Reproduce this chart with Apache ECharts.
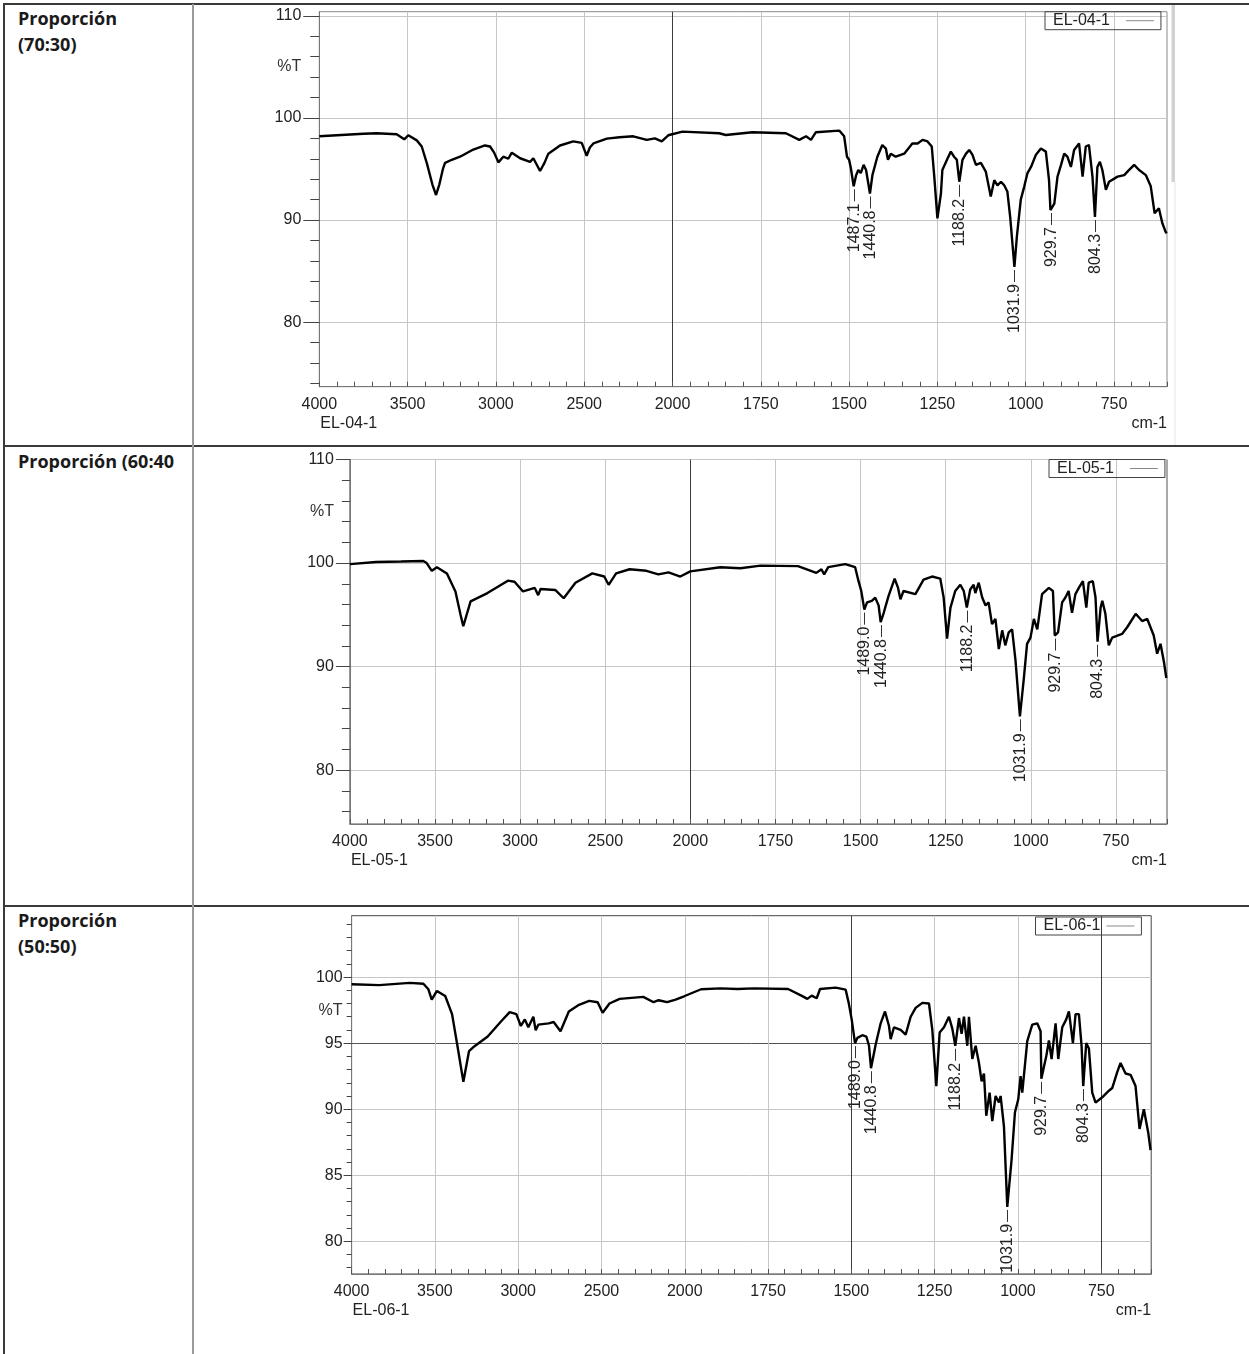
<!DOCTYPE html>
<html>
<head>
<meta charset="utf-8">
<script src="https://cdn.jsdelivr.net/npm/echarts@6/dist/echarts.min.js"></script>
<style>
  body { margin: 0; background: #fff; }
  #page { position: relative; width: 1249px; height: 1354px; overflow: hidden; }
  .rule { position: absolute; background: #3a3a3a; }
  .rule.light { background: #9a9a9a; }
  .label {
    position: absolute; left: 18px;
    font: bold 18px "Open Sans", sans-serif; line-height: 25.5px; color: #1a1a1a;
  }
  #chart { position: absolute; left: 0; top: 0; width: 1249px; height: 1354px; }
</style>
</head>
<body>
<div id="page">
  <div class="rule" style="left:3px;top:3px;width:1246px;height:2px"></div>
  <div class="rule" style="left:3px;top:3px;width:2px;height:1351px"></div>
  <div class="rule" style="left:3px;top:445px;width:1246px;height:2px"></div>
  <div class="rule" style="left:3px;top:905px;width:1246px;height:2px"></div>
  <div class="rule light" style="left:192px;top:4px;width:2px;height:1350px"></div>
  <div class="label" style="top:6px">Proporción<br>(70:30)</div>
  <div class="label" style="top:449px">Proporción (60:40</div>
  <div class="label" style="top:908px">Proporción<br>(50:50)</div>
  <div id="chart"></div>
</div>
<script>
// tick labels
var xLabelWaves = [4000, 3500, 3000, 2500, 2000, 1750, 1500, 1250, 1000, 750];
var c1YTicks = [80, 90, 100, 110];
var c2YTicks = [80, 90, 100, 110];
var c3YTicks = [80, 85, 90, 95, 100];

// EL-04-1
var c1Wave = [4000, 3850, 3750, 3675, 3562, 3519, 3496, 3448, 3420, 3390, 3360, 3339, 3320, 3300, 3288, 3250, 3203, 3128, 3062, 3033, 3010, 2986, 2958, 2930, 2910, 2863, 2807, 2788, 2750, 2725, 2703, 2637, 2562, 2514, 2486, 2468, 2448, 2372, 2300, 2222, 2146, 2100, 2061, 2024, 1972, 1868, 1849, 1774, 1679, 1641, 1622, 1608, 1594, 1528, 1514, 1506, 1500, 1495, 1487, 1480, 1474, 1467, 1459, 1452, 1441, 1434, 1420, 1406, 1396, 1390, 1382, 1368, 1344, 1321, 1306, 1292, 1278, 1266, 1259, 1250, 1240, 1236, 1221, 1212, 1203, 1195, 1188, 1179, 1169, 1160, 1151, 1141, 1127, 1113, 1099, 1089, 1080, 1070, 1061, 1052, 1044, 1032, 1025, 1014, 1004, 995, 985, 971, 957, 943, 934, 930, 919, 910, 900, 891, 882, 872, 863, 849, 839, 830, 821, 811, 804, 797, 790, 783, 773, 764, 740, 721, 712, 693, 679, 660, 646, 635, 623, 613, 604, 601];
var c1Trans = [98.2, 98.35, 98.45, 98.5, 98.4, 97.9, 98.3, 97.8, 97.2, 95.5, 93.5, 92.45, 93.5, 95.0, 95.6, 95.9, 96.2, 96.9, 97.3, 97.2, 96.6, 95.65, 96.2, 96.0, 96.6, 96.05, 95.7, 96.05, 94.8, 95.6, 96.5, 97.3, 97.7, 97.55, 96.3, 97.1, 97.5, 97.97, 98.1, 98.2, 97.85, 98.0, 97.7, 98.3, 98.66, 98.5, 98.33, 98.6, 98.5, 97.85, 98.2, 97.85, 98.6, 98.76, 98.2, 96.2, 95.9, 95.07, 93.3, 94.4, 94.9, 94.6, 95.4, 94.9, 92.6, 94.4, 96.2, 97.35, 97.0, 95.9, 96.5, 96.2, 96.5, 97.5, 97.5, 97.85, 97.7, 97.2, 94.3, 90.17, 92.6, 94.9, 96.05, 96.7, 96.2, 95.9, 93.75, 95.9, 96.5, 96.86, 96.4, 95.4, 95.6, 94.74, 92.3, 93.9, 93.4, 93.75, 93.4, 92.8, 90.3, 85.4, 88.4, 92.0, 93.3, 94.6, 95.2, 96.4, 97.0, 96.7, 93.9, 90.98, 91.6, 94.25, 95.4, 96.5, 96.2, 95.2, 96.86, 97.5, 94.25, 97.2, 97.35, 94.25, 90.3, 95.2, 95.7, 94.9, 92.95, 93.75, 94.25, 94.4, 94.74, 95.4, 94.9, 94.4, 93.3, 90.66, 91.15, 89.67, 88.85, 88.7];
var c1PeakWave = [1487.1, 1440.8, 1188.2, 1031.9, 929.7, 804.3];
var c1PeakTrans = [93.3, 92.6, 93.75, 85.4, 90.98, 90.3];

// EL-05-1
var c2Wave = [4000, 3847, 3700, 3569, 3549, 3519, 3489, 3430, 3380, 3350, 3334, 3291, 3192, 3072, 3033, 2983, 2914, 2894, 2880, 2794, 2744, 2675, 2576, 2506, 2480, 2436, 2357, 2258, 2188, 2128, 2059, 2000, 1912, 1853, 1794, 1684, 1630, 1615, 1607, 1595, 1545, 1516, 1506, 1498, 1489, 1481, 1467, 1457, 1447, 1441, 1432, 1418, 1400, 1390, 1383, 1374, 1339, 1315, 1290, 1266, 1256, 1246, 1236, 1222, 1207, 1197, 1188, 1178, 1168, 1163, 1153, 1143, 1133, 1124, 1114, 1104, 1094, 1084, 1075, 1065, 1055, 1045, 1032, 1021, 1011, 1001, 991, 981, 967, 947, 935, 929.7, 920, 908, 898, 889, 879, 869, 859, 847, 837, 830, 818, 810, 804, 795, 790, 781, 771, 761, 732, 717, 692, 673, 658, 639, 629, 619, 609, 602];
var c2Trans = [99.9, 100.1, 100.15, 100.2, 100.0, 99.25, 99.6, 99.0, 97.26, 95.0, 93.9, 96.3, 97.1, 98.3, 98.2, 97.26, 97.6, 96.9, 97.5, 97.4, 96.6, 98.1, 99.0, 98.7, 97.9, 99.0, 99.4, 99.25, 98.9, 99.1, 98.7, 99.2, 99.6, 99.5, 99.75, 99.7, 99.05, 99.4, 98.9, 99.6, 99.9, 99.6, 98.25, 97.3, 95.5, 96.2, 96.35, 96.66, 95.9, 94.3, 95.2, 96.8, 98.5, 97.6, 96.5, 97.3, 97.0, 98.4, 98.7, 98.5, 96.66, 92.7, 95.7, 97.3, 97.9, 97.3, 95.7, 97.45, 97.9, 97.1, 98.1, 96.7, 95.9, 96.2, 94.1, 94.6, 91.7, 93.5, 92.05, 93.3, 93.6, 90.6, 85.2, 88.7, 92.2, 92.8, 94.6, 93.6, 97.0, 97.6, 97.3, 93.0, 93.3, 96.2, 96.7, 97.3, 95.2, 97.0, 97.6, 98.25, 95.7, 98.1, 98.25, 96.7, 92.4, 95.7, 96.35, 95.1, 92.05, 92.8, 93.15, 93.8, 95.1, 94.4, 94.6, 93.0, 91.25, 92.2, 90.45, 88.9];
var c2PeakWave = [1489.0, 1440.8, 1188.2, 1031.9, 929.7, 804.3];
var c2PeakTrans = [95.5, 94.3, 95.7, 85.2, 93.0, 92.4];

// EL-06-1
var c3Wave = [4000, 3834, 3651, 3569, 3539, 3519, 3488, 3438, 3397, 3366, 3329, 3295, 3264, 3183, 3102, 3051, 3011, 2984, 2960, 2939, 2909, 2895, 2879, 2817, 2787, 2746, 2696, 2635, 2574, 2523, 2493, 2452, 2391, 2249, 2187, 2157, 2106, 2055, 2004, 1951, 1893, 1842, 1792, 1690, 1650, 1632, 1619, 1604, 1594, 1547, 1517, 1508, 1499, 1489, 1482, 1467, 1455, 1447, 1441, 1427, 1412, 1399, 1387, 1382, 1372, 1352, 1337, 1322, 1307, 1287, 1267, 1257, 1245, 1235, 1222, 1207, 1197, 1188, 1177, 1169, 1162, 1152, 1147, 1137, 1127, 1117, 1109, 1102, 1095, 1085, 1077, 1067, 1057, 1052, 1042, 1032, 1019, 1009, 999, 992, 987, 972, 957, 942, 932, 929.7, 915, 907, 899, 887, 879, 867, 855, 847, 835, 827, 817, 809, 804, 795, 787, 777, 767, 747, 727, 717, 702, 692, 677, 662, 647, 635, 622, 609, 602];
var c3Trans = [99.46, 99.39, 99.56, 99.5, 99.08, 98.3, 98.95, 98.57, 97.2, 94.9, 92.07, 94.4, 94.75, 95.5, 96.66, 97.35, 97.2, 96.3, 96.8, 96.2, 97.0, 95.97, 96.4, 96.5, 96.6, 95.9, 97.4, 97.9, 98.2, 98.1, 97.3, 98.0, 98.35, 98.5, 98.1, 98.25, 98.1, 98.3, 98.55, 99.08, 99.15, 99.1, 99.15, 99.1, 98.6, 98.35, 98.6, 98.4, 99.1, 99.2, 99.05, 98.05, 96.8, 95.0, 95.4, 95.6, 95.5, 94.8, 93.1, 94.9, 96.5, 97.4, 96.3, 95.3, 96.2, 96.0, 95.65, 97.0, 97.67, 98.05, 98.0, 96.0, 91.75, 95.8, 96.2, 97.0, 96.1, 94.8, 96.9, 95.7, 97.0, 94.8, 97.0, 93.8, 94.8, 93.5, 92.1, 92.7, 89.5, 91.25, 89.1, 91.0, 90.5, 91.0, 88.7, 82.6, 86.2, 89.75, 90.75, 92.5, 91.25, 95.15, 96.4, 96.5, 95.9, 92.3, 94.0, 95.2, 93.8, 96.5, 93.8, 96.2, 96.8, 97.4, 95.0, 97.2, 97.2, 94.8, 91.75, 95.0, 94.6, 91.25, 90.5, 90.9, 91.4, 91.6, 92.8, 93.5, 92.7, 92.6, 91.75, 88.5, 90.0, 88.24, 86.9];
var c3PeakWave = [1489.0, 1440.8, 1188.2, 1031.9, 929.7, 804.3];
var c3PeakTrans = [95.0, 93.1, 94.8, 82.6, 92.3, 91.75];

// the spectrometer halves the scale above 2000 cm-1
function toAxis(w) { return w >= 2000 ? (4000 - w) / 2 : 1000 + (2000 - w); }
function fromAxis(u) { return u <= 1000 ? 4000 - 2 * u : 2000 - (u - 1000); }

var FONT = "Liberation Sans";
var charts = [
  { name: "EL-04-1", wave: c1Wave, trans: c1Trans, peakWave: c1PeakWave, peakTrans: c1PeakTrans,
    left: 319.3, top: 11.7, right: 1167, bottom: 386.7, yMin: 73.68, yMax: 110.4,
    yTicks: c1YTicks, yStep: 2, tAt: 105, darkX: [2000], darkY: [],
    majorLen: 16, minorLen: 9, yMargin: 18, border: "#8a8a8a", legend: [1045, 11.7], legendGap: 11 },
  { name: "EL-05-1", wave: c2Wave, trans: c2Trans, peakWave: c2PeakWave, peakTrans: c2PeakTrans,
    left: 349.9, top: 459.5, right: 1167, bottom: 824, yMin: 74.8, yMax: 110,
    yTicks: c2YTicks, yStep: 2, tAt: 105, darkX: [2000], darkY: [],
    majorLen: 14, minorLen: 8, yMargin: 16, border: "#555", legend: [1049, 459.5], legendGap: 11 },
  { name: "EL-06-1", wave: c3Wave, trans: c3Trans, peakWave: c3PeakWave, peakTrans: c3PeakTrans,
    left: 351.6, top: 915.7, right: 1151.2, bottom: 1274, yMin: 77.52, yMax: 104.65,
    yTicks: c3YTicks, yStep: 1, tAt: 97.5, darkX: [1500, 750], darkY: [95],
    majorLen: 8, minorLen: 5, yMargin: 9, border: "#444", legend: [1035.5, 917], legendGap: 1 }
];

var option = {
  animation: false,
  backgroundColor: "transparent",
  textStyle: { fontFamily: FONT },
  grid: [], xAxis: [], yAxis: [], series: [], legend: [], graphic: []
};

var xLabelU = xLabelWaves.map(toAxis);
var xMinorU = [];
for (var u = 0; u <= 2400; u += 50) xMinorU.push(u);

charts.forEach(function (c, g) {
  var yMinor = [];
  for (var v = Math.ceil(c.yMin / c.yStep) * c.yStep; v <= c.yMax; v += c.yStep) yMinor.push(v);

  option.grid.push({
    left: c.left, top: c.top, width: c.right - c.left, height: c.bottom - c.top,
    show: true, borderColor: c.border, borderWidth: 1, backgroundColor: "transparent"
  });

  // x: labels + light grid / minor ticks / dark grid
  option.xAxis.push({
    type: "value", gridIndex: g, min: 0, max: 2400, position: "bottom",
    axisLine: { show: true, lineStyle: { color: "#777", width: 1 } },
    axisTick: { show: false, customValues: xLabelU },
    axisLabel: {
      customValues: xLabelU, margin: 10, color: "#222", fontSize: 16, fontFamily: FONT,
      formatter: function (val) { return String(Math.round(fromAxis(val))); }
    },
    splitLine: { show: true, lineStyle: { color: "#c6c6c6", width: 1 } }
  });
  option.xAxis.push({
    type: "value", gridIndex: g, min: 0, max: 2400, position: "bottom",
    axisLine: { show: false },
    axisTick: { show: true, inside: true, length: 5, customValues: xMinorU, lineStyle: { color: "#555" } },
    axisLabel: { show: false },
    splitLine: { show: false }
  });
  option.xAxis.push({
    type: "value", gridIndex: g, min: 0, max: 2400, position: "bottom",
    axisLine: { show: false },
    axisTick: { show: false, customValues: c.darkX.map(toAxis) },
    axisLabel: { show: false },
    splitLine: { show: c.darkX.length > 0, lineStyle: { color: "#3c3c3c", width: 1 } }
  });

  // y: labels + major ticks / minor ticks + %T / dark grid
  option.yAxis.push({
    type: "value", gridIndex: g, min: c.yMin, max: c.yMax, position: "left",
    axisLine: { show: true, lineStyle: { color: "#777", width: 1 } },
    axisTick: { show: true, length: c.majorLen, customValues: c.yTicks, lineStyle: { color: "#444" } },
    axisLabel: {
      customValues: c.yTicks, margin: c.yMargin, color: "#222", fontSize: 16, fontFamily: FONT,
      formatter: function (val) { return String(Math.round(val)); }
    },
    splitLine: { show: true, lineStyle: { color: "#c6c6c6", width: 1 } }
  });
  option.yAxis.push({
    type: "value", gridIndex: g, min: c.yMin, max: c.yMax, position: "left",
    axisLine: { show: false },
    axisTick: { show: true, length: c.minorLen, customValues: yMinor, lineStyle: { color: "#444" } },
    axisLabel: {
      customValues: [c.tAt], margin: c.yMargin, color: "#333", fontSize: 16, fontFamily: FONT,
      formatter: function () { return "%T"; }
    },
    splitLine: { show: false }
  });
  option.yAxis.push({
    type: "value", gridIndex: g, min: c.yMin, max: c.yMax, position: "left",
    axisLine: { show: false },
    axisTick: { show: false, customValues: c.darkY },
    axisLabel: { show: false },
    splitLine: { show: c.darkY.length > 0, lineStyle: { color: "#555", width: 1 } }
  });

  option.series.push({
    name: c.name, type: "line", xAxisIndex: 3 * g, yAxisIndex: 3 * g,
    data: c.wave.map(function (w, i) { return [toAxis(w), c.trans[i]]; }),
    symbol: "none", showSymbol: false, z: 5,
    lineStyle: { color: "#000", width: 2.4 }, itemStyle: { color: "#000" }
  });

  // peak picks: short leader below the minimum, rotated wavenumber under it
  option.series.push({
    type: "custom", xAxisIndex: 3 * g, yAxisIndex: 3 * g, silent: true, clip: false, z: 6,
    data: c.peakWave.map(function (w, i) { return [toAxis(w), c.peakTrans[i], w]; }),
    encode: { x: 0, y: 1 },
    renderItem: function (params, api) {
      var p = api.coord([api.value(0), api.value(1)]);
      var x = Math.round(p[0]) + 0.5;
      return {
        type: "group",
        children: [
          { type: "line", shape: { x1: x, y1: p[1] + 3, x2: x, y2: p[1] + 15 },
            style: { stroke: "#333", lineWidth: 1 } },
          { type: "text", x: x, y: p[1] + 17, rotation: Math.PI / 2,
            style: { text: api.value(2).toFixed(1), fill: "#222", align: "right",
                     verticalAlign: "middle", font: "16px '" + FONT + "'" } }
        ]
      };
    }
  });

  option.legend.push({
    data: [c.name], left: c.legend[0], top: c.legend[1], align: "right", selectedMode: false,
    icon: "rect", itemWidth: 28, itemHeight: 1, itemStyle: { color: "#888", borderWidth: 0 },
    borderColor: "#444", borderWidth: 1, padding: [1, 7, 1, 8],
    textStyle: { fontSize: 16, color: "#222", fontFamily: FONT, padding: [0, c.legendGap, 0, 0] }
  });

  option.graphic.push(
    { type: "text", left: c.left + 1, top: c.bottom + 29, silent: true,
      style: { text: c.name, fill: "#222", font: "16px '" + FONT + "'" } },
    { type: "text", right: 1249 - c.right, top: c.bottom + 29, silent: true,
      style: { text: "cm-1", fill: "#222", font: "16px '" + FONT + "'" } }
  );
});

// scrollbar remnant at the right of the first spectrum
option.graphic.push(
  { type: "rect", left: 1171.5, top: 5, silent: true, shape: { width: 3.5, height: 177 }, style: { fill: "#d2d2d2" } },
  { type: "rect", left: 1174.5, top: 182, silent: true, shape: { width: 1, height: 263 }, style: { fill: "#e6e6e6" } }
);

var myChart = echarts.init(document.getElementById("chart"));
myChart.setOption(option);
</script>
</body>
</html>
